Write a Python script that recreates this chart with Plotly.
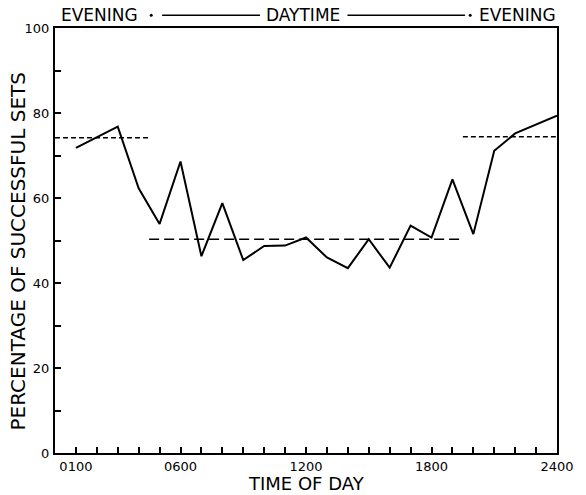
import plotly.graph_objects as go

# ---- data ----
hours = [1, 3, 4, 5, 6, 7, 8, 9, 10, 11, 12, 13, 14, 15, 16, 17, 18, 19, 20, 21, 22, 23, 24]
pct = [71.8, 76.8, 62.3, 53.9, 68.6, 46.3, 58.8, 45.4, 48.7, 48.8, 50.7, 46.0, 43.5,
       50.3, 43.6, 53.5, 50.7, 64.4, 51.5, 71.1, 75.2, 77.3, 79.4]

evening_am_x = [0, 4.5]
evening_am_y = [74.2, 74.2]
daytime_x = [4.5, 19.5]
daytime_y = [50.3, 50.3]
evening_pm_x = [19.5, 24]
evening_pm_y = [74.4, 74.4]

x_tickvals = [1, 6, 12, 18, 24]
x_ticktext = ["0100", "0600", "1200", "1800", "2400"]
y_tickvals = [0, 20, 40, 60, 80, 100]
y_ticktext = ["0", "20", "40", "60", "80", "100"]

FONT = "DejaVu Sans"

fig = go.Figure()
fig.add_trace(go.Scatter(x=evening_am_x, y=evening_am_y, mode="lines",
                         line=dict(color="black", width=1.5, dash="5px,3px"), showlegend=False))
fig.add_trace(go.Scatter(x=daytime_x, y=daytime_y, mode="lines",
                         line=dict(color="black", width=1.5, dash="10px,5px"), showlegend=False))
fig.add_trace(go.Scatter(x=evening_pm_x, y=evening_pm_y, mode="lines",
                         line=dict(color="black", width=1.5, dash="5px,3px"), showlegend=False))
fig.add_trace(go.Scatter(x=hours, y=pct, mode="lines",
                         line=dict(color="black", width=2), showlegend=False))

fig.update_xaxes(range=[0, 24], tickvals=x_tickvals, ticktext=x_ticktext,
                 ticks="inside", ticklen=6, tickwidth=1.5, tickcolor="black",
                 minor=dict(dtick=1, tick0=0, ticks="inside", ticklen=6, tickwidth=1.5, tickcolor="black"),
                 showline=True, linecolor="black", linewidth=2, mirror=True,
                 showgrid=False, zeroline=False, ticklabelstandoff=0,
                 tickfont=dict(family=FONT, size=13, color="black"))
fig.update_yaxes(range=[0, 100], tickvals=y_tickvals, ticktext=y_ticktext,
                 ticks="inside", ticklen=6, tickwidth=1.5, tickcolor="black",
                 minor=dict(dtick=10, tick0=0, ticks="inside", ticklen=6, tickwidth=1.5, tickcolor="black"),
                 showline=True, linecolor="black", linewidth=2, mirror=True,
                 showgrid=False, zeroline=False, ticklabelstandoff=1,
                 tickfont=dict(family=FONT, size=13, color="black"))

head_y = 1.03
head_font = dict(family=FONT, size=17, color="black")
annotations = [
    dict(text="EVENING", x=2.13, y=head_y, xref="x", yref="paper", showarrow=False,
         font=head_font, xanchor="center", yanchor="middle"),
    dict(text="DAYTIME", x=11.85, y=head_y, xref="x", yref="paper", showarrow=False,
         font=head_font, xanchor="center", yanchor="middle"),
    dict(text="EVENING", x=22.1, y=head_y, xref="x", yref="paper", showarrow=False,
         font=head_font, xanchor="center", yanchor="middle"),
    dict(text="TIME OF DAY", x=0.5, y=-0.0725, xref="paper", yref="paper", showarrow=False,
         font=dict(family=FONT, size=18, color="black"), xanchor="center", yanchor="middle"),
    dict(text="PERCENTAGE OF SUCCESSFUL SETS", x=-0.073, y=0.475, xref="paper", yref="paper",
         showarrow=False, textangle=-90,
         font=dict(family=FONT, size=20, color="black"), xanchor="center", yanchor="middle"),
]

shapes = [
    dict(type="line", xref="x", yref="paper", x0=5.12, x1=9.8, y0=head_y, y1=head_y,
         line=dict(color="black", width=1.5)),
    dict(type="line", xref="x", yref="paper", x0=13.98, x1=19.6, y0=head_y, y1=head_y,
         line=dict(color="black", width=1.5)),
    dict(type="circle", xref="x", yref="paper", xsizemode="pixel", ysizemode="pixel",
         xanchor=4.6, yanchor=head_y, x0=-1.5, x1=1.5, y0=-1.5, y1=1.5,
         fillcolor="black", line=dict(color="black", width=0)),
    dict(type="circle", xref="x", yref="paper", xsizemode="pixel", ysizemode="pixel",
         xanchor=19.85, yanchor=head_y, x0=-1.5, x1=1.5, y0=-1.5, y1=1.5,
         fillcolor="black", line=dict(color="black", width=0)),
]

fig.update_layout(width=586, height=495, margin=dict(l=55, r=24, t=28, b=42),
                  plot_bgcolor="white", paper_bgcolor="white",
                  annotations=annotations, shapes=shapes, showlegend=False)

fig.write_html("out.html")
